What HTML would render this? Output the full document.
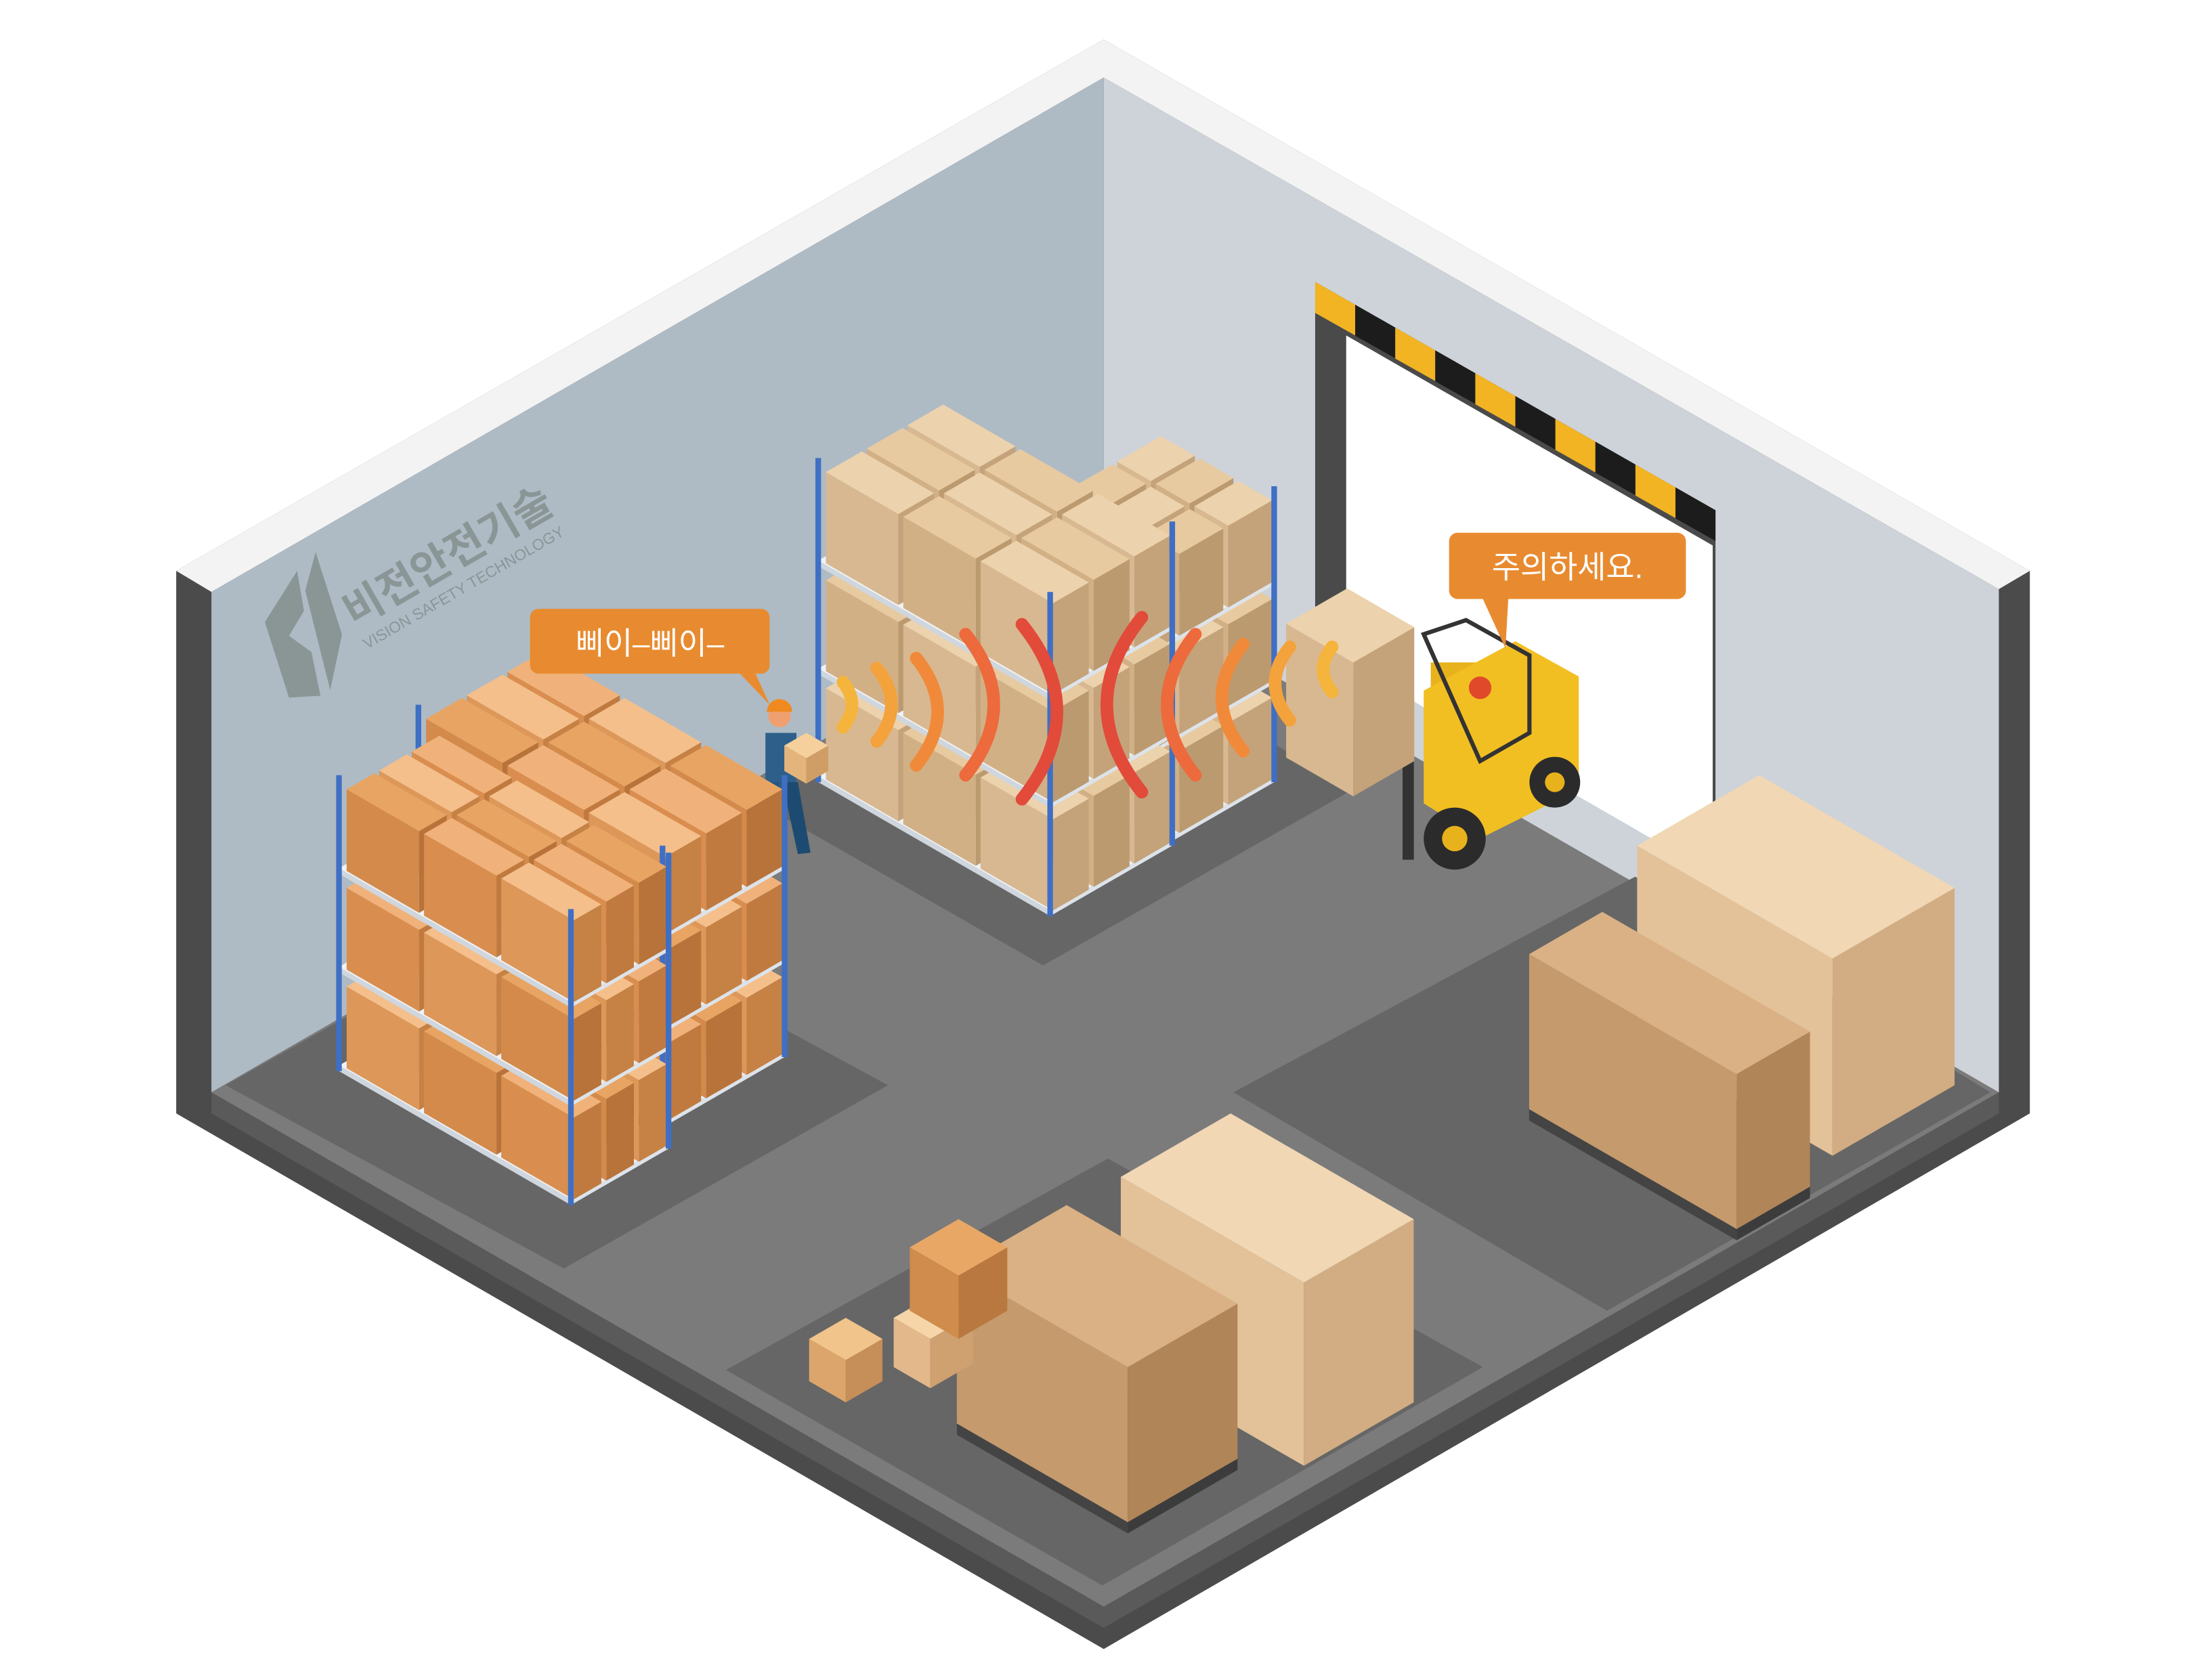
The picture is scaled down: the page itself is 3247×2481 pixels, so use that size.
<!DOCTYPE html>
<html><head><meta charset="utf-8">
<style>
html,body{margin:0;padding:0;background:#fff;width:3247px;height:2481px;overflow:hidden}
svg{display:block}
text{font-family:"Liberation Sans","Noto Sans CJK KR",sans-serif}
</style></head>
<body>
<svg id="s" width="3247" height="2481" viewBox="0 0 1560 1192" preserveAspectRatio="none" xmlns="http://www.w3.org/2000/svg">
<polygon points="125,405 783,28 1440,405 1440,790 783,1170 125,790" fill="#4b4b4b"/>
<polygon points="125,405 783,28 1440,405 1418,418 783,55 150,420" fill="#f3f3f3"/>
<polygon points="150,420 783,55 783,410 150,775" fill="#aebbc5"/>
<polygon points="783,55 1418,418 1418,775 783,410" fill="#cdd3d9"/>
<polygon points="150,775 783,410 1418,775 783,1140" fill="#7b7b7b"/>
<polygon points="150,775 783,1140 1418,775 1418,790 783,1155 150,790" fill="#5a5a5a"/>
<polygon points="160,770 400,900 630,770 390,640" fill="#666"/>
<polygon points="530,565 740,685 960,560 750,440" fill="#666"/>
<polygon points="875,775 1140,930 1412,775 1160,622" fill="#666"/>
<polygon points="515,972 782,1125 1052,970 786,822" fill="#666"/>
<polygon points="933,200 1217,362 1217,610 933,450" fill="#4a4a4a"/>
<polygon points="955,238 1215,387 1215,620 955,470" fill="#fff"/>
<g id="stripes"></g>
<g transform="translate(205,495) rotate(-30)" fill="#8a9696">
<polygon points="0,0 12,-55 50,-75 40,-48 22,-38 30,-20 20,10"/>
<polygon points="28,10 48,-60 68,-80 55,-20"/>
<text x="65" y="-20" font-size="30" font-weight="bold">비전안전기술</text>
<text x="65" y="-2" font-size="11">VISION SAFETY TECHNOLOGY</text>
</g>
<g id="scene"></g>
<path d="M382,432 H540 a6,6 0 0 1 6,6 V472 a6,6 0 0 1 -6,6 H536 L546,500 L525,478 H382 a6,6 0 0 1 -6,-6 V438 a6,6 0 0 1 6,-6Z" fill="#e88b30"/>
<text x="461" y="464" font-size="22" fill="#fff" text-anchor="middle">삐이–삐이–</text>
<path d="M1034,378 H1190 a6,6 0 0 1 6,6 V419 a6,6 0 0 1 -6,6 H1070 L1068,460 L1052,425 H1034 a6,6 0 0 1 -6,-6 V384 a6,6 0 0 1 6,-6Z" fill="#e88b30"/>
<text x="1112" y="410" font-size="22" fill="#fff" text-anchor="middle">주의하세요.</text>
</svg>
<script>
var NS="http://www.w3.org/2000/svg",sc=document.getElementById("scene");
function el(t,a,p){var e=document.createElementNS(NS,t);for(var k in a)e.setAttribute(k,a[k]);(p||sc).appendChild(e);return e;}
function P(a){return a.map(function(q){return q[0].toFixed(1)+","+q[1].toFixed(1)}).join(" ");}
var C=0.866;
function cube(x,y,a,b,h,top,l,r){
 var f=[x,y],A=[x+C*a,y-.5*a],B=[x-C*b,y-.5*b];
 el("polygon",{points:P([f,B,[B[0],B[1]-h],[f[0],f[1]-h]]),fill:l});
 el("polygon",{points:P([f,A,[A[0],A[1]-h],[f[0],f[1]-h]]),fill:r});
 el("polygon",{points:P([[f[0],f[1]-h],[A[0],A[1]-h],[A[0]-C*b,A[1]-.5*b-h],[B[0],B[1]-h]]),fill:top});
}
var st=document.getElementById("stripes");
for(var i=0;i<10;i++){var x0=933+i*28.4,y0=200+i*16.2;
 el("polygon",{points:P([[x0,y0],[x0+28.4,y0+16.2],[x0+28.4,y0+38],[x0,y0+22]]),fill:i%2?"#1c1c1c":"#f2b423"},st);}
function shelf(x,y,a,b,H,tiers,col){
 var th=H/tiers;
 for(var t=0;t<tiers;t++){
  var yy=y-t*th;
  cube(x,yy,a,b,4,"#eef2f6","#cfd6de","#dde3ea");
  var na=3,nb=3;
  for(var j=nb-1;j>=0;j--)for(var i=na-1;i>=0;i--){
   var bx=x-C*(j*b/nb)+C*(i*a/na),by=yy-4-.5*(j*b/nb)-.5*(i*a/na);
   var c=col[(i+j+t)%col.length];
   cube(bx+2,by,a/na-4,b/nb-4,th-12,c[0],c[1],c[2]);
  }
 }
 [[x,y],[x+C*a,y-.5*a],[x-C*b,y-.5*b]].forEach(function(p){el("rect",{x:p[0]-2,y:p[1]-H,width:4,height:H,fill:"#3f6fc4"});});
}
var tan=[["#f0b27a","#d98e4f","#c07a3f"],["#e8a463","#d38a4b","#b8733a"],["#f4bf8a","#dc9759","#c68145"]];
var beige=[["#ecd2ad","#d8b890","#c4a37a"],["#e8caa0","#d2b085","#bc9a70"]];
shelf(800,615,120,95,210,3,beige);
shelf(745,650,100,190,230,3,beige);
el("rect",{x:1015,y:470,width:85,height:95,fill:"#e8b21c"});
el("polygon",{points:"1010,490 1075,455 1120,480 1120,560 1050,595 1010,570",fill:"#f2bf22"});
el("polygon",{points:"1010,450 1040,440 1085,465 1085,520 1050,540",fill:"none",stroke:"#333","stroke-width":3});
el("circle",{cx:1032,cy:595,r:22,fill:"#2b2b2b"});el("circle",{cx:1032,cy:595,r:9,fill:"#e8b21c"});
el("circle",{cx:1103,cy:555,r:18,fill:"#2b2b2b"});el("circle",{cx:1103,cy:555,r:7,fill:"#e8b21c"});
el("rect",{x:995,y:540,width:8,height:70,fill:"#333"});
cube(960,565,50,55,95,"#ecd2ad","#d8b890","#c4a37a");
el("circle",{cx:1050,cy:488,r:8,fill:"#e04a2a"});
el("rect",{x:543,y:520,width:22,height:40,fill:"#2d5f8a"});
el("polygon",{points:"543,555 553,555 545,600 537,598",fill:"#24557e"});
el("polygon",{points:"555,555 566,555 575,605 566,606",fill:"#1d4a70"});
el("circle",{cx:553,cy:508,r:8,fill:"#f0a070"});
el("path",{d:"M544,505 a9,9 0 0 1 18,0Z",fill:"#f08a20"});
cube(572,556,18,18,18,"#f6d09c","#e3b47c","#cf9e66");
var arcs=[[598,500,16,"#f5b43c"],[622,500,26,"#f4a23c"],[650,505,38,"#f08a3a"],[685,500,50,"#ec6a3c"],[725,505,62,"#e24a3a"]];
arcs.forEach(function(a){el("path",{d:"M"+a[0]+","+(a[1]-a[2])+" Q"+(a[0]+a[2]*.8)+","+a[1]+" "+a[0]+","+(a[1]+a[2]),fill:"none",stroke:a[3],"stroke-width":9,"stroke-linecap":"round"});});
var arcs2=[[810,500,62,"#e24a3a"],[848,500,50,"#ec6a3c"],[882,495,38,"#f08a3a"],[915,485,26,"#f4a23c"],[945,475,16,"#f5b43c"]];
arcs2.forEach(function(a){el("path",{d:"M"+a[0]+","+(a[1]-a[2])+" Q"+(a[0]-a[2]*.8)+","+a[1]+" "+a[0]+","+(a[1]+a[2]),fill:"none",stroke:a[3],"stroke-width":9,"stroke-linecap":"round"});});
shelf(470,800,100,200,200,3,tan);
shelf(405,855,80,190,210,3,tan);
cube(1300,820,100,160,140,"#f1d7b4","#e3c199","#d2ad83");
cube(1232,880,60,170,8,"#555","#444","#3c3c3c");
cube(1232,872,60,170,110,"#d9b185","#c59a6c","#b08558");
cube(925,1040,90,150,130,"#f1d7b4","#e3c199","#d2ad83");
cube(800,1088,90,140,8,"#555","#444","#3c3c3c");
cube(800,1080,90,140,110,"#d9b185","#c59a6c","#b08558");
cube(600,995,30,30,30,"#f0c48a","#dca56b","#c68e58");
cube(660,985,35,30,35,"#f6d6a8","#e3b88a","#cfa070");
cube(680,950,40,40,45,"#e9a766","#d08c4c","#b97840");
</script>
</body></html>
